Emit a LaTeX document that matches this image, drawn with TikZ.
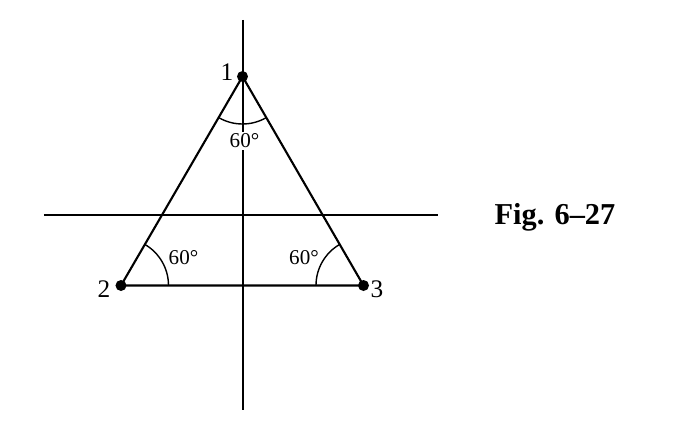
\documentclass[tikz,border=0pt]{standalone}
\usepackage{fontspec}
\setmainfont{Liberation Serif}
\usetikzlibrary{positioning}
\begin{document}
\begin{tikzpicture}
    \useasboundingbox (-4.85, -4.36) rectangle (8.63, 4.3);
    \tikzset{axis/.style={line width=1.3pt}, side/.style={line width=1.2pt},
      vdot/.style={circle, fill, inner sep=0pt, minimum size=0.22cm},
      angl/.style={line width=0.8pt}, deg/.style={font=\large, inner sep=1pt}}
    % axes
    \coordinate (top) at(0.01, 3.9);
    \coordinate (bot) at(0.01, -3.9);
    \coordinate (left) at(-3.97, 0);
    \coordinate (right) at(3.91, 0);
    \draw[axis] (top) -- (bot);
    \draw[axis] (left) -- (right);
    % triangle
    \node[vdot] (v1) at(0, 2.77) {};
    \node[vdot] (v2) at(-2.43, -1.41) {};
    \node[vdot] (v3) at(2.42, -1.41) {};
    \draw[side] (v1.center) -- (v2.center) -- (v3.center) -- cycle;
    \node[font=\Large] (n1) at(-0.31, 2.86) {1};
    \node[font=\Large] (n2) at(-2.77, -1.48) {2};
    \node[font=\Large] (n3) at(2.69, -1.48) {3};
    % angles
    \draw[angl] (v1.center) ++(-120:0.95) arc(-120:-60:0.95);
    \draw[angl] (v2.center) ++(0:0.95) arc(0:60:0.95);
    \draw[angl] (v3.center) ++(120:0.95) arc(120:180:0.95);
    \node[deg, fill=white] (a1) at(0.04, 1.48) {60°};
    \node[deg] (a2) at(-1.18, -0.86) {60°};
    \node[deg] (a3) at(1.23, -0.86) {60°};
    \node[font=\LARGE\bfseries] (fig) at(6.25, -0.04) {Fig. 6–27};
\end{tikzpicture}
\end{document}
